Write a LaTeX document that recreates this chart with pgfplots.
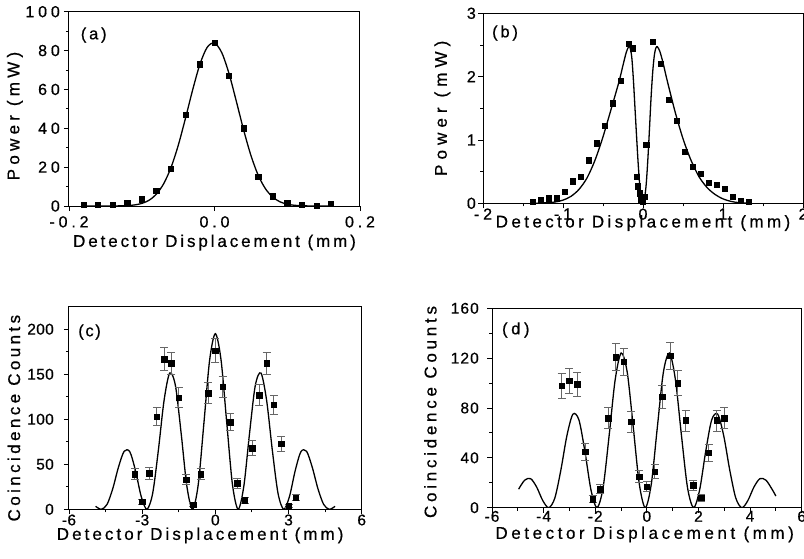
\documentclass[border=0pt]{standalone}
\usepackage{fontspec}
\setmainfont{Liberation Sans}[FakeBold=0.6]
\usepackage{pgfplots}
\pgfplotsset{compat=1.18}

% size and letter spacing in one go
\newcommand\tf[2]{\fontsize{#1}{#1}\selectfont\addfontfeatures{LetterSpace=#2}}

\pgfplotsset{
  panel/.style={
    scale only axis,
    anchor=south west,
    tick align=outside,
    xtick pos=bottom, ytick pos=left,
    axis line style={line width=1pt},
    every tick/.style={black, line width=0.9pt},
    major tick length=5pt, minor tick length=3pt,
    xlabel={Detector Displacement (mm)},
  },
  fit/.style={black, line width=1.3pt, smooth, no markers},
  pts/.style={only marks, mark=square*, mark size=2.6pt, black},
  ebars/.style={only marks, mark=square*, mark size=2.8pt, black,
    error bars/.cd, y dir=both, y explicit,
    error bar style={black!60, line width=0.8pt},
    error mark options={rotate=90, mark size=4pt, black!60, line width=0.8pt}},
}

\begin{document}
\begin{tikzpicture}
\useasboundingbox (0pt,0pt) rectangle (804pt,-559pt);

% (a)
\begin{axis}[panel, at={(69pt,-206pt)}, width=291pt, height=194.3pt,
  xmin=-0.2, xmax=0.2, ymin=0, ymax=100,
  xtick={-0.2,0,0.2}, xticklabels={-0.2,0.0,0.2},
  ytick={0,20,40,60,80,100}, yticklabels={0,20,40,60,80,100},
  minor y tick num=1,
  tick label style={font=\tf{16}{24}},
  xticklabel style={inner sep=5pt}, yticklabel style={inner sep=4pt},
  ylabel={Power (mW)},
  xlabel style={font=\tf{17}{17}, at={(axis description cs:0.5,-0.188)}, anchor=center},
  ylabel style={font=\tf{17}{25}, at={(axis description cs:-0.186,0.463)}, anchor=center},
]
\addplot[fit] coordinates {
(-0.18,0) (-0.16,0) (-0.14,0.02) (-0.13,0.07) (-0.12,0.2) (-0.11,0.54)
(-0.10,1.32) (-0.09,2.95) (-0.08,6.05) (-0.07,11.37) (-0.06,19.6)
(-0.05,31.0) (-0.04,45.0) (-0.03,59.8) (-0.02,73.0) (-0.01,81.7)
(0.00,83.9) (0.01,78.9) (0.02,68.1) (0.03,53.9) (0.04,39.2) (0.05,26.1)
(0.06,15.9) (0.07,8.9) (0.08,4.6) (0.09,2.16) (0.10,0.93) (0.11,0.37)
(0.12,0.13) (0.13,0.04) (0.16,0)
};
\addplot[pts] coordinates {
(-0.18,0.5) (-0.16,0.5) (-0.14,0.6) (-0.12,1.5) (-0.10,3.5) (-0.08,8)
(-0.06,19) (-0.04,47) (-0.02,73) (0,84) (0.02,67) (0.04,40) (0.06,15)
(0.08,5) (0.10,1.5) (0.12,0.6) (0.14,0.3) (0.16,1)
};
\node[anchor=west, inner sep=0pt, font=\tf{16.5}{17}] at (rel axis cs:0.04,0.88) {(a)};
\end{axis}

% (b)
\begin{axis}[panel, at={(483pt,-203.3pt)}, width=320pt, height=190pt,
  xmin=-2, xmax=2, ymin=0, ymax=3,
  xtick={-2,-1,0,1,2}, xticklabels={-2,-1,0,1,2},
  ytick={0,1,2,3}, yticklabels={0,1,2,3},
  minor x tick num=1, minor y tick num=1,
  tick label style={font=\tf{16}{24}},
  xticklabel style={inner sep=0pt}, yticklabel style={inner sep=2pt},
  ylabel={Power (mW)},
  xlabel style={font=\tf{17}{20}, at={(axis description cs:0.5,-0.104)}, anchor=center},
  ylabel style={font=\tf{17}{30}, at={(axis description cs:-0.127,0.5)}, anchor=center},
]
\addplot[fit] coordinates {
(-1.35,0) (-1.2,0.01) (-1.1,0.02) (-1.0,0.05) (-0.9,0.11) (-0.8,0.22)
(-0.7,0.40) (-0.6,0.68) (-0.5,1.05) (-0.4,1.48) (-0.3,1.92) (-0.25,2.18)
(-0.21,2.38) (-0.18,2.47) (-0.16,2.45) (-0.14,2.30) (-0.12,1.95)
(-0.10,1.50) (-0.08,1.05) (-0.06,0.62) (-0.04,0.28) (-0.02,0.07) (0,0)
(0.02,0.08) (0.04,0.30) (0.06,0.68) (0.08,1.15) (0.10,1.65) (0.12,2.05)
(0.14,2.32) (0.16,2.45) (0.18,2.47) (0.21,2.40) (0.25,2.22) (0.3,1.95)
(0.4,1.45) (0.5,1.02) (0.6,0.68) (0.7,0.42) (0.8,0.25) (0.9,0.14)
(1.0,0.07) (1.1,0.03) (1.2,0.01) (1.35,0)
};
\addplot[pts] coordinates {
(-1.38,0.03) (-1.28,0.05) (-1.18,0.08) (-1.08,0.08) (-0.98,0.18)
(-0.875,0.35) (-0.78,0.42) (-0.675,0.68) (-0.58,0.95) (-0.48,1.22)
(-0.38,1.58) (-0.28,1.93) (-0.18,2.52) (-0.13,2.45) (-0.083,0.42)
(-0.0625,0.27) (-0.046,0.16) (-0.025,0.06) (-0.004,0.02) (0.02,0.11)
(0.04,0.92) (0.12,2.55) (0.225,2.20) (0.32,1.64) (0.42,1.31) (0.52,0.82)
(0.62,0.58) (0.72,0.47) (0.82,0.32) (0.92,0.29) (1.02,0.23) (1.12,0.10)
(1.22,0.04) (1.32,0.03)
};
\node[anchor=west, inner sep=0pt, font=\tf{16.5}{17}] at (rel axis cs:0.028,0.896) {(b)};
\end{axis}

% (c)
\begin{axis}[panel, at={(69pt,-509.3pt)}, width=292.7pt, height=202.6pt,
  xmin=-6, xmax=6, ymin=0, ymax=225,
  xtick={-6,-3,0,3,6}, xticklabels={-6,-3,0,3,6},
  ytick={0,50,100,150,200}, yticklabels={0,50,100,150,200},
  minor x tick num=1, minor y tick num=1,
  tick label style={font=\tf{15.5}{2}},
  xticklabel style={inner sep=0pt}, yticklabel style={inner sep=10pt},
  ylabel={Coincidence Counts},
  xlabel style={font=\tf{17}{18}, at={(axis description cs:0.448,-0.129)}, anchor=center},
  ylabel style={font=\tf{17}{20}, at={(axis description cs:-0.188,0.45)}, anchor=center},
]
\addplot[fit] coordinates {
(-4.909,3.35) (-4.675,0) (-4.441,5.4) (-4.208,22.7) (-3.974,46.6)
(-3.740,64.4) (-3.506,63.9) (-3.273,42.8) (-3.039,14.2) (-2.805,0)
(-2.571,17.5) (-2.338,65.2) (-2.104,120.6) (-1.870,151.4) (-1.636,137.3)
(-1.403,84.7) (-1.169,25.9) (-0.935,0) (-0.701,27.6) (-0.468,96.0)
(-0.234,165.8) (0,195) (0.234,165.8) (0.468,96.0) (0.701,27.6) (0.935,0)
(1.169,25.9) (1.403,84.7) (1.636,137.3) (1.870,151.4) (2.104,120.6)
(2.338,65.2) (2.571,17.5) (2.805,0) (3.039,14.2) (3.273,42.8) (3.506,63.9)
(3.740,64.4) (3.974,46.6) (4.208,22.7) (4.441,5.4) (4.675,0) (4.909,3.35)
};
\addplot[ebars] coordinates {
(-3.3,39) +- (0,6.2)   (-3.0,8.5) +- (0,2.9)  (-2.7,40) +- (0,6.3)
(-2.4,103) +- (0,10.1) (-2.1,167) +- (0,12.9) (-1.8,162) +- (0,12.7)
(-1.5,124) +- (0,11.1) (-1.2,33) +- (0,5.7)   (-0.9,5) +- (0,2.2)
(-0.6,39) +- (0,6.2)   (-0.3,129) +- (0,11.4) (0.0,176) +- (0,13.3)
(0.3,136) +- (0,11.7)  (0.6,97) +- (0,9.8)    (0.9,29) +- (0,5.4)
(1.2,10) +- (0,3.2)    (1.5,68) +- (0,8.2)    (1.8,127) +- (0,11.3)
(2.1,162) +- (0,12.7)  (2.4,116) +- (0,10.8)  (2.7,73) +- (0,8.5)
(3.0,4) +- (0,2.0)     (3.3,13) +- (0,3.6)
};
\node[anchor=west, inner sep=0pt, font=\tf{16.5}{10}] at (rel axis cs:0.031,0.875) {(c)};
\end{axis}

% (d)
\begin{axis}[panel, at={(492pt,-507.7pt)}, width=309.7pt, height=199.4pt,
  xmin=-6, xmax=6, ymin=0, ymax=160,
  xtick={-6,-4,-2,0,2,4,6}, xticklabels={-6,-4,-2,0,2,4,6},
  ytick={0,40,80,120,160}, yticklabels={0,40,80,120,160},
  minor x tick num=1, minor y tick num=1,
  tick label style={font=\tf{15.5}{7}},
  xticklabel style={inner sep=0pt, yshift=2pt}, yticklabel style={inner sep=8pt},
  ylabel={Coincidence Counts},
  xlabel style={font=\tf{17}{21}, at={(axis description cs:0.493,-0.134)}, anchor=center},
  ylabel style={font=\tf{17}{22}, at={(axis description cs:-0.199,0.48)}, anchor=center},
]
\addplot[fit] coordinates {
(-4.969,14.87) (-4.735,22.07) (-4.501,23.30) (-4.268,16.52) (-4.034,5.75)
(-3.800,0) (-3.566,7.74) (-3.333,30.07) (-3.099,57.67) (-2.865,75.04)
(-2.631,70.40) (-2.398,44.88) (-2.164,14.17) (-1.930,0) (-1.696,16.04)
(-1.463,57.56) (-1.229,102.43) (-0.995,124.11) (-0.761,108.74)
(-0.528,64.88) (-0.294,19.21) (-0.060,0) (0.174,19.21) (0.408,64.88)
(0.641,108.74) (0.875,124.11) (1.109,102.43) (1.343,57.56) (1.576,16.04)
(1.810,0) (2.044,14.17) (2.278,44.88) (2.511,70.40) (2.745,75.04)
(2.979,57.67) (3.213,30.07) (3.446,7.74) (3.680,0) (3.914,5.75)
(4.148,16.52) (4.381,23.30) (4.615,22.07) (4.849,14.87) (5.000,9.35)
};
\addplot[ebars] coordinates {
(-3.3,98) +- (0,9.9)   (-3.0,102) +- (0,10.1) (-2.7,99) +- (0,9.9)
(-2.4,45) +- (0,6.7)   (-2.1,7) +- (0,2.6)    (-1.8,15) +- (0,3.9)
(-1.5,72) +- (0,8.5)   (-1.2,121) +- (0,11)   (-0.9,117) +- (0,10.8)
(-0.6,69) +- (0,8.3)   (-0.3,25) +- (0,5)     (0.0,17) +- (0,4.1)
(0.3,29) +- (0,5.4)    (0.6,89) +- (0,9.4)    (0.9,122) +- (0,11)
(1.2,100) +- (0,10)    (1.5,70) +- (0,8.4)    (1.8,18) +- (0,4.2)
(2.1,8) +- (0,2.8)     (2.4,44) +- (0,6.6)    (2.7,70) +- (0,8.4)
(3.0,72) +- (0,8.5)
};
\node[anchor=west, inner sep=0pt, font=\tf{16.5}{22}] at (rel axis cs:0.032,0.891) {(d)};
\end{axis}
\end{tikzpicture}
\end{document}
